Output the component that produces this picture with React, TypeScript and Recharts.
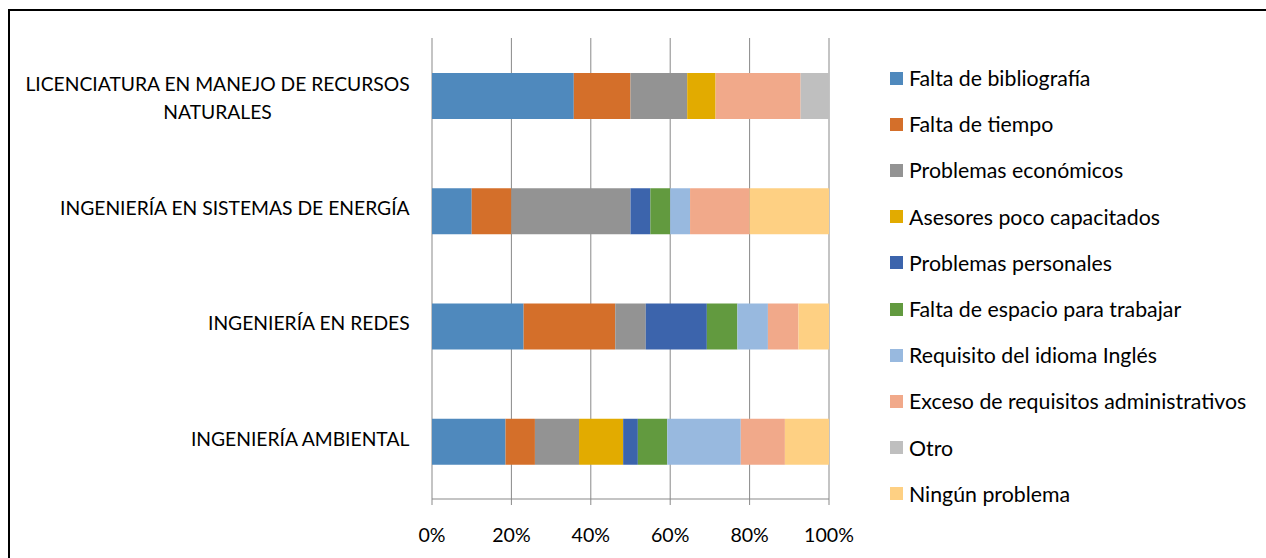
import React from 'react';
import { BarChart, Bar, XAxis, YAxis, CartesianGrid, Legend } from 'recharts';

const categories = [
  'LICENCIATURA EN MANEJO DE RECURSOS NATURALES',
  'INGENIERÍA EN SISTEMAS DE ENERGÍA',
  'INGENIERÍA EN REDES',
  'INGENIERÍA AMBIENTAL',
];

const seriesNames = [
  'Falta de bibliografía',
  'Falta de tiempo',
  'Problemas económicos',
  'Asesores poco capacitados',
  'Problemas personales',
  'Falta de espacio para trabajar',
  'Requisito del idioma Inglés',
  'Exceso de requisitos administrativos',
  'Otro',
  'Ningún problema',
];

const seriesColors = [
  '#4F89BD',
  '#D46F2A',
  '#939393',
  '#E2AB00',
  '#3C64AC',
  '#629A3F',
  '#98B9DF',
  '#F1A98A',
  '#BFBFBF',
  '#FED083',
];

// counts per category (same order as categories)
const faltaBibliografia = [5, 2, 3, 5];
const faltaTiempo = [2, 2, 3, 2];
const problemasEconomicos = [2, 6, 1, 3];
const asesores = [1, 0, 0, 3];
const problemasPersonales = [0, 1, 2, 1];
const faltaEspacio = [0, 1, 1, 2];
const idiomaIngles = [0, 1, 1, 5];
const excesoRequisitos = [3, 3, 1, 3];
const otro = [1, 0, 0, 0];
const ningunProblema = [0, 4, 1, 3];

const seriesValues = [
  faltaBibliografia,
  faltaTiempo,
  problemasEconomicos,
  asesores,
  problemasPersonales,
  faltaEspacio,
  idiomaIngles,
  excesoRequisitos,
  otro,
  ningunProblema,
];

const xTicks = [0, 0.2, 0.4, 0.6, 0.8, 1];
const bandTicks = [0, 1, 2, 3, 4];

const data = categories.map((c, i) => {
  const row: any = { name: c };
  seriesNames.forEach((s, j) => {
    row['s' + j] = seriesValues[j][i];
  });
  return row;
});

const FONT = 'Lato, "Open Sans", sans-serif';
const AXIS = '#898989';
const CAT_SIZE = 19.3;

let ctx: CanvasRenderingContext2D | null = null;
const measure = (t: string) => {
  if (!ctx) {
    const c = document.createElement('canvas');
    ctx = c.getContext('2d');
  }
  if (!ctx) return t.length * 10;
  ctx.font = `${CAT_SIZE}px Lato`;
  return ctx.measureText(t).width;
};

const wrap = (t: string, maxW: number) => {
  const words = t.split(' ');
  const lines: string[] = [];
  let cur = '';
  words.forEach((w) => {
    const next = cur ? cur + ' ' + w : w;
    if (cur && measure(next) > maxW) {
      lines.push(cur);
      cur = w;
    } else cur = next;
  });
  if (cur) lines.push(cur);
  return lines;
};

const CatTick = (props: any) => {
  const { x, y, payload } = props;
  const lines = wrap(String(payload.value), 400);
  const widths = lines.map(measure);
  const maxW = Math.max(...widths);
  const cx = x - maxW / 2;
  const lh = 28;
  const y0 = y - ((lines.length - 1) * lh) / 2 + (lines.length - 1) * 5;
  return (
    <text textAnchor="middle" fontFamily={FONT} fontSize={CAT_SIZE} fill="#000">
      {lines.map((l, i) => (
        <tspan key={i} x={cx} y={y0 + i * lh} dy="0.22em">
          {l}
        </tspan>
      ))}
    </text>
  );
};

const renderLegend = (props: any) => {
  const payload = [...(props.payload || [])].sort(
    (a: any, b: any) => seriesNames.indexOf(a.value) - seriesNames.indexOf(b.value)
  );
  return (
    <div style={{ fontFamily: FONT, fontSize: 21.3, color: '#000' }}>
      {payload.map((e: any, i: number) => (
        <div key={i} style={{ height: 46.2, display: 'flex', alignItems: 'center', whiteSpace: 'nowrap' }}>
          <span style={{ display: 'inline-block', width: 13, height: 13, background: e.color, marginRight: 6, flex: 'none' }} />
          {e.value}
        </div>
      ))}
    </div>
  );
};

export default function App() {
  return (
    <div style={{ position: 'fixed', left: 0, top: 0, width: 1266, height: 558, overflow: 'hidden', background: '#fff' }}>
      <div
        style={{
          position: 'absolute',
          left: 8,
          top: 9,
          width: 1300,
          height: 600,
          border: '2px solid #000',
          boxSizing: 'border-box',
        }}
      />
      <div style={{ position: 'absolute', left: 0, top: 0 }}>
        <BarChart
          width={1266}
          height={558}
          data={data}
          layout="vertical"
          stackOffset="expand"
          margin={{ top: 38, right: 67, bottom: 19, left: 0 }}
        >
          <CartesianGrid horizontal={false} vertical={true} stroke={AXIS} xAxisId={0} yAxisId="cat" />
          <XAxis
            type="number"
            xAxisId={0}
            domain={[0, 1]}
            ticks={xTicks}
            tickFormatter={(v: number) => `${Math.round(v * 100)}%`}
            axisLine={{ stroke: AXIS }}
            tickLine={{ stroke: AXIS }}
            tickSize={6}
            tickMargin={23}
            height={40}
            tick={{ fill: '#000', fontFamily: FONT, fontSize: 19.6 }}
            allowDataOverflow
          />
          <YAxis
            yAxisId={1}
            type="number"
            domain={[0, 4]}
            ticks={bandTicks}
            tick={false}
            width={0}
            tickSize={6}
            axisLine={{ stroke: AXIS }}
            tickLine={{ stroke: AXIS }}
            allowDataOverflow
          />
          <YAxis
            yAxisId="cat"
            type="category"
            dataKey="name"
            width={432}
            axisLine={false}
            tickLine={false}
            tickSize={0}
            tickMargin={22}
            tick={<CatTick />}
            interval={0}
          />
          <Legend
            layout="vertical"
            align="right"
            verticalAlign="top"
            content={renderLegend}
            wrapperStyle={{ left: 890, right: 'auto', top: 55, width: 370 }}
          />
          {seriesNames.map((s, j) => (
            <Bar
              key={s}
              dataKey={'s' + j}
              name={s}
              stackId="a"
              fill={seriesColors[j]}
              barSize={46}
              yAxisId="cat"
              xAxisId={0}
              isAnimationActive={false}
            />
          ))}
        </BarChart>
      </div>
    </div>
  );
}
